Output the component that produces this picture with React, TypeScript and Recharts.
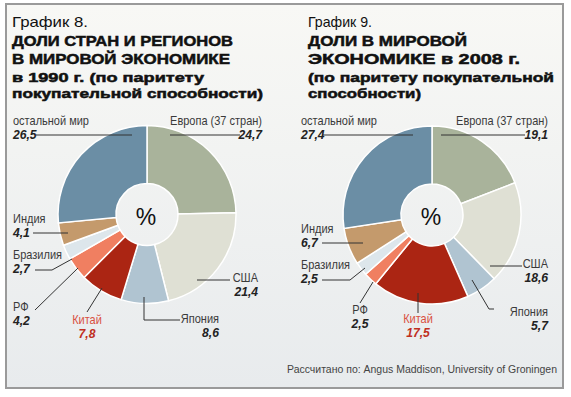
import React from 'react';
import { PieChart, Pie, Cell } from 'recharts';

const regions = ['Европа (37 стран)', 'США', 'Япония', 'Китай', 'РФ', 'Бразилия', 'Индия', 'остальной мир'];
const shares1990 = [24.7, 21.4, 8.6, 7.8, 4.2, 2.7, 4.1, 26.5];
const shares2008 = [19.1, 18.6, 5.7, 17.5, 2.5, 2.5, 6.7, 27.4];
const sliceColors = ['#a9b39b', '#dfe0d4', '#b0c4d1', '#ab2513', '#f07f61', '#dde6eb', '#c49a6c', '#6b8ea5'];

const title1 = ['График 8.', 'ДОЛИ СТРАН И РЕГИОНОВ', 'В МИРОВОЙ ЭКОНОМИКЕ', 'в 1990 г. (по паритету', 'покупательной способности)'];
const title2 = ['График 9.', 'ДОЛИ В МИРОВОЙ', 'ЭКОНОМИКЕ в 2008 г.', '(по паритету покупательной', 'способности)'];
const sourceNote = 'Рассчитано по: Angus Maddison, University of Groningen';
const centerSymbol = '%';

const data1990 = regions.map((name, i) => ({ name, value: shares1990[i] }));
const data2008 = regions.map((name, i) => ({ name, value: shares2008[i] }));

type Lay = { x: number; y: number; a: 'start' | 'middle' | 'end'; line: number[][] };

const layout1: Lay[] = [
  { x: 262, y: 125, a: 'end', line: [[170, 135], [240, 135]] },
  { x: 258, y: 282, a: 'end', line: [[197, 280], [230, 280]] },
  { x: 219, y: 323, a: 'end', line: [[144, 297], [144, 320], [180, 320]] },
  { x: 87, y: 324, a: 'middle', line: [[87, 312], [102, 288]] },
  { x: 13, y: 311, a: 'start', line: [[35, 310], [78, 268]] },
  { x: 13, y: 259, a: 'start', line: [[35, 270], [52, 270], [72, 259]] },
  { x: 13, y: 223, a: 'start', line: [[33, 233], [68, 233]] },
  { x: 13, y: 125, a: 'start', line: [[36, 135], [132, 135]] },
];
const layout2: Lay[] = [
  { x: 548, y: 125, a: 'end', line: [[441, 135], [525, 135]] },
  { x: 548, y: 268, a: 'end', line: [[490, 266], [522, 266]] },
  { x: 548, y: 316, a: 'end', line: [[472, 280], [489, 309], [494, 309]] },
  { x: 418, y: 323, a: 'middle', line: [[418, 293], [418, 313]] },
  { x: 360, y: 314, a: 'middle', line: [[360, 303], [373, 282]] },
  { x: 301, y: 269, a: 'start', line: [[322, 280], [350, 280], [365, 268]] },
  { x: 301, y: 233, a: 'start', line: [[322, 243], [363, 243]] },
  { x: 301, y: 125, a: 'start', line: [[323, 135], [413, 135]] },
];

const CHINA = 3;
const fmt = (v: number) => v.toFixed(1).replace('.', ',');
const labelFont = "'Liberation Sans Narrow', 'Liberation Sans', Arial, sans-serif";

function makeLabel(layout: Lay[]) {
  return (props: any) => {
    const i = props.index;
    const l = layout[i];
    const pts = l.line.map((p) => p.join(',')).join(' ');
    const red = i === CHINA;
    return (
      <g>
        <polyline points={pts} fill="none" stroke="#333" strokeWidth={1} />
        <g transform={`translate(${l.x},${l.y}) scale(0.88,1)`}>
          <text x={0} y={0} textAnchor={l.a} fontFamily={labelFont} fontSize={12.5} fill={red ? '#d9503f' : '#3a3a3a'}>
            {props.name}
          </text>
        </g>
        <g transform={`translate(${l.x},${l.y + 14}) scale(0.9,1)`}>
          <text x={0} y={0} textAnchor={l.a} fontFamily={labelFont} fontSize={13.5} fontWeight="bold" fontStyle="italic" fill={red ? '#c0301f' : '#222'}>
            {fmt(props.value)}
          </text>
        </g>
      </g>
    );
  };
}

const titleFont = "'Liberation Sans', Arial, sans-serif";

function Title({ lines, x, lens }: { lines: string[]; x: number; lens: number[] }) {
  const ys = [27, 45.5, 64, 81.5, 97.5];
  const sizes = [14.5, 14.5, 14.5, 12.5, 12.5];
  return (
    <g>
      {lines.map((t, i) => (
        <text
          key={i}
          x={x}
          y={ys[i]}
          fontFamily={titleFont}
          fontSize={sizes[i]}
          fontWeight={i === 0 ? 'normal' : 'bold'}
          fill="#111"
          stroke={i === 0 ? 'none' : '#111'}
          strokeWidth={i === 0 ? 0 : 0.5}
          textLength={lens[i]}
          lengthAdjust="spacingAndGlyphs"
        >
          {t}
        </text>
      ))}
    </g>
  );
}

export default function App() {
  return (
    <div style={{ position: 'absolute', left: 0, top: 0, width: 571, height: 397, background: '#fff', overflow: 'hidden' }}>
      <div
        style={{
          position: 'absolute',
          left: 5,
          top: 3,
          width: 555,
          height: 382,
          border: '2px solid #9a9a9a',
          background: 'linear-gradient(#f8f8f5, #e8ebed)',
        }}
      />
      <div style={{ position: 'absolute', left: 0, top: 0 }}>
        <PieChart width={571} height={397} margin={{ top: 0, right: 0, bottom: 0, left: 0 }}>
          <Pie
            data={data1990}
            dataKey="value"
            nameKey="name"
            cx={147}
            cy={214.5}
            innerRadius={31}
            outerRadius={89}
            startAngle={90}
            endAngle={-270}
            stroke="#ffffff"
            strokeWidth={1.5}
            isAnimationActive={false}
            label={makeLabel(layout1)}
            labelLine={false}
          >
            {data1990.map((d, i) => (
              <Cell key={i} fill={sliceColors[i]} />
            ))}
          </Pie>
          <Pie
            data={data2008}
            dataKey="value"
            nameKey="name"
            cx={432}
            cy={215}
            innerRadius={31}
            outerRadius={89}
            startAngle={90}
            endAngle={-270}
            stroke="#ffffff"
            strokeWidth={1.5}
            isAnimationActive={false}
            label={makeLabel(layout2)}
            labelLine={false}
          >
            {data2008.map((d, i) => (
              <Cell key={i} fill={sliceColors[i]} />
            ))}
          </Pie>
        </PieChart>
      </div>
      <svg width={571} height={397} style={{ position: 'absolute', left: 0, top: 0, pointerEvents: 'none' }}>
        <Title lines={title1} x={12} lens={[76, 221, 218, 192, 251]} />
        <Title lines={title2} x={308} lens={[64, 159, 212, 246, 113]} />
        <text x={146} y={225} textAnchor="middle" fontFamily={titleFont} fontSize={23} fill="#111">{centerSymbol}</text>
        <text x={431} y={225} textAnchor="middle" fontFamily={titleFont} fontSize={23} fill="#111">{centerSymbol}</text>
        <text x={287} y={373} fontFamily={labelFont} fontSize={11} fill="#444" textLength={270} lengthAdjust="spacingAndGlyphs">
          {sourceNote}
        </text>
      </svg>
    </div>
  );
}
